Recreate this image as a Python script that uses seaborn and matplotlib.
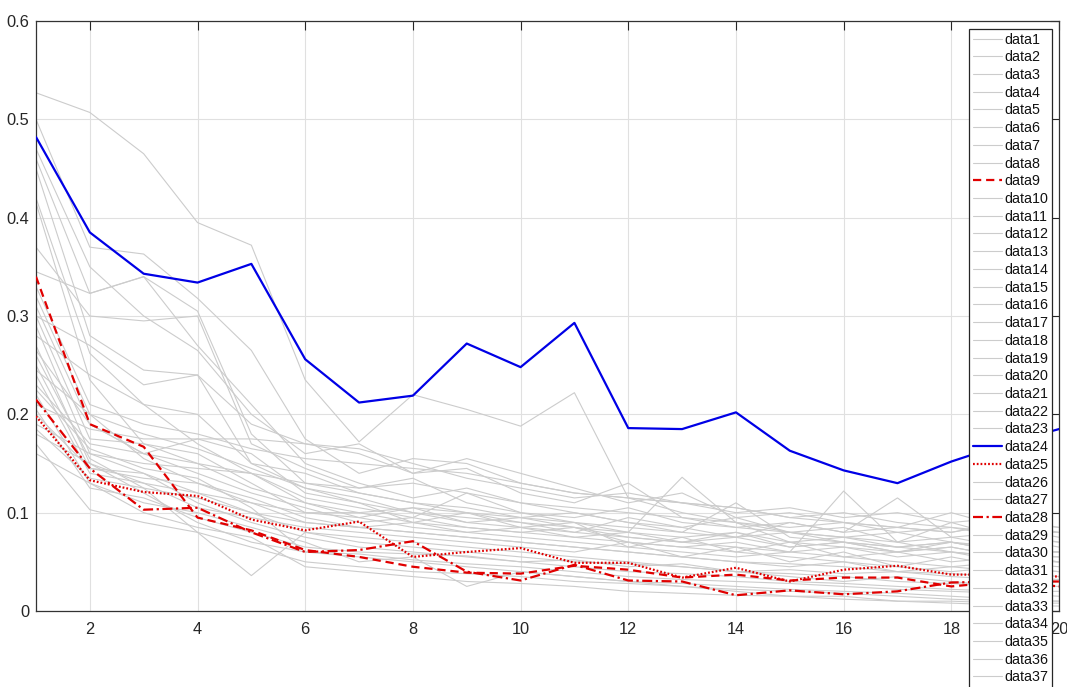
import matplotlib
matplotlib.use("Agg")
import matplotlib.pyplot as plt
import seaborn as sns

# ---------------- data ----------------
x_values = list(range(1, 21))

data1 = [0.527, 0.507, 0.465, 0.395, 0.372, 0.235, 0.172, 0.220, 0.205, 0.188, 0.222, 0.115, 0.100, 0.090, 0.080, 0.085, 0.070, 0.075, 0.065, 0.060]
data2 = [0.500, 0.370, 0.363, 0.318, 0.265, 0.175, 0.140, 0.155, 0.150, 0.130, 0.120, 0.115, 0.110, 0.105, 0.095, 0.090, 0.085, 0.080, 0.090, 0.085]
data3 = [0.470, 0.350, 0.300, 0.265, 0.200, 0.160, 0.170, 0.140, 0.145, 0.120, 0.110, 0.130, 0.095, 0.085, 0.080, 0.075, 0.080, 0.070, 0.065, 0.060]
data4 = [0.460, 0.323, 0.340, 0.305, 0.180, 0.130, 0.120, 0.110, 0.105, 0.095, 0.090, 0.085, 0.080, 0.110, 0.075, 0.070, 0.065, 0.060, 0.055, 0.050]
data5 = [0.450, 0.280, 0.245, 0.240, 0.150, 0.125, 0.115, 0.100, 0.095, 0.090, 0.085, 0.075, 0.070, 0.065, 0.060, 0.122, 0.070, 0.060, 0.055, 0.050]
data6 = [0.420, 0.262, 0.210, 0.170, 0.140, 0.115, 0.105, 0.095, 0.120, 0.100, 0.090, 0.080, 0.136, 0.090, 0.070, 0.065, 0.060, 0.070, 0.060, 0.055]
data7 = [0.415, 0.235, 0.170, 0.150, 0.125, 0.110, 0.100, 0.090, 0.085, 0.080, 0.075, 0.070, 0.065, 0.060, 0.055, 0.050, 0.045, 0.040, 0.045, 0.040]
data8 = [0.370, 0.300, 0.295, 0.300, 0.170, 0.145, 0.125, 0.135, 0.110, 0.100, 0.095, 0.105, 0.090, 0.085, 0.090, 0.080, 0.115, 0.075, 0.080, 0.070]
data9 = [0.340, 0.190, 0.167, 0.095, 0.082, 0.062, 0.055, 0.045, 0.039, 0.038, 0.046, 0.042, 0.034, 0.037, 0.031, 0.034, 0.034, 0.025, 0.030, 0.030]
data10 = [0.345, 0.323, 0.340, 0.270, 0.210, 0.150, 0.130, 0.115, 0.125, 0.110, 0.100, 0.090, 0.085, 0.095, 0.080, 0.075, 0.070, 0.090, 0.075, 0.065]
data11 = [0.320, 0.200, 0.155, 0.130, 0.110, 0.090, 0.085, 0.080, 0.075, 0.070, 0.065, 0.060, 0.055, 0.050, 0.045, 0.050, 0.040, 0.045, 0.040, 0.035]
data12 = [0.310, 0.190, 0.160, 0.175, 0.160, 0.120, 0.110, 0.100, 0.090, 0.085, 0.080, 0.075, 0.070, 0.080, 0.065, 0.070, 0.060, 0.065, 0.055, 0.050]
data13 = [0.300, 0.175, 0.170, 0.160, 0.130, 0.100, 0.095, 0.085, 0.080, 0.075, 0.070, 0.065, 0.060, 0.055, 0.060, 0.055, 0.050, 0.045, 0.050, 0.045]
data14 = [0.290, 0.160, 0.140, 0.120, 0.100, 0.080, 0.075, 0.070, 0.065, 0.060, 0.055, 0.050, 0.045, 0.040, 0.035, 0.030, 0.035, 0.030, 0.025, 0.030]
data15 = [0.280, 0.240, 0.210, 0.200, 0.150, 0.140, 0.120, 0.110, 0.100, 0.095, 0.100, 0.090, 0.080, 0.075, 0.080, 0.070, 0.065, 0.070, 0.060, 0.060]
data16 = [0.270, 0.150, 0.120, 0.090, 0.070, 0.060, 0.055, 0.050, 0.045, 0.040, 0.035, 0.030, 0.025, 0.020, 0.015, 0.015, 0.010, 0.010, 0.008, 0.008]
data17 = [0.260, 0.155, 0.125, 0.080, 0.036, 0.080, 0.070, 0.065, 0.060, 0.055, 0.050, 0.048, 0.045, 0.040, 0.038, 0.035, 0.030, 0.028, 0.025, 0.025]
data18 = [0.250, 0.145, 0.140, 0.110, 0.090, 0.075, 0.065, 0.060, 0.055, 0.050, 0.045, 0.040, 0.038, 0.035, 0.030, 0.028, 0.025, 0.022, 0.020, 0.020]
data19 = [0.240, 0.140, 0.130, 0.105, 0.095, 0.085, 0.080, 0.075, 0.070, 0.065, 0.060, 0.070, 0.055, 0.065, 0.050, 0.060, 0.045, 0.055, 0.045, 0.040]
data20 = [0.230, 0.170, 0.160, 0.140, 0.120, 0.105, 0.090, 0.095, 0.085, 0.080, 0.085, 0.070, 0.065, 0.070, 0.060, 0.065, 0.055, 0.060, 0.050, 0.050]
data21 = [0.220, 0.130, 0.110, 0.100, 0.085, 0.070, 0.050, 0.055, 0.025, 0.040, 0.035, 0.030, 0.028, 0.025, 0.022, 0.020, 0.018, 0.015, 0.012, 0.010]
data22 = [0.210, 0.185, 0.175, 0.175, 0.175, 0.170, 0.165, 0.150, 0.135, 0.125, 0.115, 0.120, 0.110, 0.105, 0.095, 0.100, 0.090, 0.085, 0.080, 0.080]
data23 = [0.200, 0.145, 0.135, 0.130, 0.115, 0.095, 0.085, 0.080, 0.075, 0.070, 0.065, 0.060, 0.055, 0.050, 0.048, 0.045, 0.040, 0.038, 0.035, 0.032]
data24 = [0.482, 0.385, 0.343, 0.334, 0.353, 0.256, 0.212, 0.219, 0.272, 0.248, 0.293, 0.186, 0.185, 0.202, 0.163, 0.143, 0.130, 0.152, 0.170, 0.185]
data25 = [0.198, 0.133, 0.121, 0.117, 0.093, 0.082, 0.091, 0.055, 0.060, 0.064, 0.049, 0.049, 0.034, 0.044, 0.030, 0.042, 0.046, 0.037, 0.037, 0.035]
data26 = [0.190, 0.160, 0.150, 0.145, 0.140, 0.130, 0.125, 0.130, 0.120, 0.110, 0.105, 0.100, 0.095, 0.090, 0.085, 0.090, 0.080, 0.085, 0.075, 0.070]
data27 = [0.180, 0.150, 0.130, 0.120, 0.110, 0.100, 0.100, 0.105, 0.090, 0.095, 0.085, 0.080, 0.075, 0.080, 0.070, 0.075, 0.065, 0.070, 0.060, 0.060]
data28 = [0.215, 0.145, 0.103, 0.105, 0.080, 0.060, 0.062, 0.071, 0.040, 0.031, 0.047, 0.031, 0.030, 0.016, 0.021, 0.017, 0.020, 0.029, 0.030, 0.025]
data29 = [0.170, 0.103, 0.090, 0.080, 0.065, 0.050, 0.045, 0.040, 0.038, 0.035, 0.030, 0.028, 0.025, 0.022, 0.020, 0.018, 0.015, 0.012, 0.010, 0.010]
data30 = [0.160, 0.130, 0.100, 0.085, 0.075, 0.045, 0.040, 0.035, 0.030, 0.028, 0.025, 0.020, 0.018, 0.016, 0.015, 0.012, 0.010, 0.008, 0.006, 0.005]
data31 = [0.330, 0.210, 0.190, 0.180, 0.165, 0.155, 0.150, 0.145, 0.140, 0.130, 0.120, 0.115, 0.110, 0.100, 0.105, 0.095, 0.100, 0.090, 0.095, 0.085]
data32 = [0.300, 0.270, 0.230, 0.240, 0.190, 0.170, 0.160, 0.140, 0.155, 0.140, 0.125, 0.110, 0.120, 0.095, 0.100, 0.090, 0.085, 0.080, 0.090, 0.080]
data33 = [0.265, 0.190, 0.160, 0.150, 0.140, 0.110, 0.095, 0.105, 0.100, 0.090, 0.080, 0.095, 0.085, 0.075, 0.090, 0.080, 0.085, 0.100, 0.085, 0.075]
data34 = [0.245, 0.200, 0.180, 0.165, 0.145, 0.125, 0.110, 0.090, 0.100, 0.085, 0.090, 0.065, 0.075, 0.060, 0.070, 0.055, 0.060, 0.050, 0.055, 0.050]
data35 = [0.225, 0.165, 0.145, 0.135, 0.105, 0.060, 0.058, 0.052, 0.048, 0.045, 0.040, 0.035, 0.032, 0.030, 0.028, 0.025, 0.022, 0.020, 0.018, 0.015]
data36 = [0.205, 0.125, 0.115, 0.095, 0.080, 0.065, 0.060, 0.058, 0.056, 0.050, 0.052, 0.045, 0.048, 0.040, 0.042, 0.038, 0.040, 0.035, 0.032, 0.030]
data37 = [0.185, 0.135, 0.125, 0.115, 0.100, 0.090, 0.085, 0.090, 0.080, 0.085, 0.075, 0.080, 0.070, 0.075, 0.065, 0.070, 0.060, 0.065, 0.055, 0.055]

series_names = [f"data{i}" for i in range(1, 38)]
series_values = [data1, data2, data3, data4, data5, data6, data7, data8, data9, data10,
                 data11, data12, data13, data14, data15, data16, data17, data18, data19, data20,
                 data21, data22, data23, data24, data25, data26, data27, data28, data29, data30,
                 data31, data32, data33, data34, data35, data36, data37]

y_tick_values = [0, 0.1, 0.2, 0.3, 0.4, 0.5, 0.6]
y_tick_labels = ["0", "0.1", "0.2", "0.3", "0.4", "0.5", "0.6"]
x_tick_values = [2, 4, 6, 8, 10, 12, 14, 16, 18, 20]

# ---------------- styles ----------------
gray_style = dict(color="#cccccc", linewidth=0.8, linestyle="-", zorder=2)
highlight_styles = {
    "data9": dict(color="#e00000", linewidth=1.6, linestyle=(0, (3.7, 2.2)), zorder=4),
    "data24": dict(color="#0000e6", linewidth=1.6, linestyle="-", zorder=4),
    "data25": dict(color="#e00000", linewidth=1.6, linestyle=(0, (0.8, 0.9)), zorder=4),
    "data28": dict(color="#e00000", linewidth=1.6, linestyle=(0, (4.5, 1.6, 1.0, 1.6)), zorder=4),
}

sns.set_style("white")
plt.rcParams["font.family"] = ["Liberation Sans", "DejaVu Sans"]

fig = plt.figure(figsize=(10.67, 6.87), dpi=100)
ax = fig.add_axes([36 / 1067, 1 - 611 / 687, 1023 / 1067, 590 / 687])

for name, vals in zip(series_names, series_values):
    st = highlight_styles.get(name, gray_style)
    sns.lineplot(x=x_values, y=vals, ax=ax, label=name, legend=False, **st)

ax.set_xlim(1, 20)
ax.set_ylim(0, 0.6)
ax.set_xticks(x_tick_values)
ax.set_xticklabels([str(v) for v in x_tick_values])
ax.set_yticks(y_tick_values)
ax.set_yticklabels(y_tick_labels)
ax.set_xlabel("")
ax.set_ylabel("")

ax.grid(True, color="#e0e0e0", linewidth=0.8)
ax.set_axisbelow(True)
for sp in ax.spines.values():
    sp.set_visible(True)
    sp.set_color("#333333")
    sp.set_linewidth(0.9)

ax.tick_params(direction="in", length=6.5, width=0.8, top=True, right=True,
               colors="#262626", labelsize=11.8)
ax.tick_params(axis="x", pad=8)
ax.tick_params(axis="y", pad=5)

handles, labels = ax.get_legend_handles_labels()
leg = ax.legend(handles, labels, loc="upper right",
                bbox_to_anchor=((1052 - 36) / 1023, (611 - 29) / 590),
                borderaxespad=0, fontsize=10.3, labelspacing=0.26,
                handlelength=2.0, handletextpad=0.2, borderpad=0.25,
                frameon=True, fancybox=False, framealpha=1, shadow=False)
leg.get_frame().set_edgecolor("#262626")
leg.get_frame().set_linewidth(0.9)
for t in leg.get_texts():
    t.set_color("#111111")

fig.savefig("out.png", dpi=100)
